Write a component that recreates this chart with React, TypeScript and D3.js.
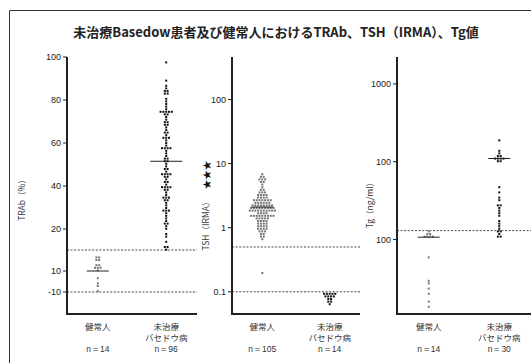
import React from 'react';
import * as d3 from 'd3';

const categories = ['健常人', '未治療\nバセドウ病'];
const nLabels1 = ['n=14', 'n=96'];
const nLabels2 = ['n=105', 'n=14'];
const nLabels3 = ['n=14', 'n=30'];

// TRAb (%)
const trabHealthy = [13.5, 13.2, 12.6, 12.4, 11.5, 11.2, 11, 10.8, 10.5, 10.2, 2.5, -1.5, -5, -9];
const trabBasedow = [
  97, 89, 87, 86, 84, 84, 83, 83, 80, 79, 78, 77, 76, 75, 75, 75, 75, 74, 73, 72,
  71, 70, 69, 68, 67, 66, 65, 64, 63, 62, 61, 60, 58, 58, 58, 55, 54, 53, 53, 52,
  52, 56, 57, 59, 62, 65, 70, 73,
  50, 49, 48, 48, 47, 46, 46, 45, 44, 44, 43, 42, 42, 41, 40, 40, 39, 38, 38, 37,
  36, 35, 35, 34, 33, 33, 32, 31, 30, 29, 28, 28, 27, 26, 25, 24, 23, 22, 21, 20,
  19, 18, 17, 16, 16, 15, 45, 39,
];
const trabTicks = [-10, 10, 20, 40, 60, 80, 100];
const trabRefs = [15, -10];
const trabMedians = [10, 51.5];

// TSH (IRMA)
const tshHealthy = [
  7.0, 6.5, 6.0, 5.8, 5.6, 5.5, 5.2, 5.0, 4.6, 4.4, 4.0, 3.8, 3.6, 3.5, 3.4, 3.3, 3.2, 3.2, 3.1, 3.0,
  3.0, 2.9, 2.9, 2.8, 2.8, 2.7, 2.7, 2.6, 2.6, 2.6, 2.5, 2.5, 2.5, 2.4, 2.4, 2.4, 2.3, 2.3, 2.3, 2.3,
  2.2, 2.2, 2.2, 2.2, 2.1, 2.1, 2.1, 2.1, 2.0, 2.0, 2.0, 2.0, 2.0, 1.9, 1.9, 1.9, 1.9, 1.9, 1.8, 1.8,
  1.8, 1.8, 1.8, 1.7, 1.7, 1.7, 1.7, 1.6, 1.6, 1.6, 1.6, 1.5, 1.5, 1.5, 1.5, 1.5, 1.4, 1.4, 1.4, 1.4,
  1.4, 1.3, 1.3, 1.3, 1.3, 1.2, 1.2, 1.2, 1.2, 1.1, 1.1, 1.1, 1.1, 1.0, 1.0, 1.0, 0.95, 0.9, 0.9, 0.85,
  0.8, 0.8, 0.75, 0.7, 0.66, 0.2,
];
const tshBasedow = [0.096, 0.096, 0.096, 0.096, 0.096, 0.088, 0.088, 0.088, 0.088, 0.08, 0.08, 0.072, 0.072, 0.062];
const tshTicks = [0.1, 1, 10, 100];
const tshTickLabels = ['0.1', '1', '10', '100'];
const tshRefs = [0.5, 0.1];
const tshMedians = [2.1, null];

// Tg (ng/ml)
const tgHealthy = [12.5, 12.0, 11.8, 11.3, 11.0, 10.8, 10.6, 5.7, 3.0, 2.8, 2.4, 2.0, 1.65, 1.35];
const tgBasedow = [
  186, 142, 130, 122, 116, 112, 110, 110, 108, 105, 102,
  48, 40, 35, 33, 28, 27, 25, 23, 21, 20, 17,
  15.5, 14.5, 13.5, 13, 12.5, 12, 11, 11,
];
const tgTicks = [10, 100, 1000];
const tgTickLabels = ['100', '100', '1000'];
const tgRefs = [13];
const tgMedians = [10.7, 110];

const FONT = '"Liberation Sans", Arial, sans-serif';
const JP = '"Noto Sans CJK JP", sans-serif';
const top = 57;
const bottom = 314;

function swarm(values: number[], cx: number, y: (v: number) => number, step = 2.6) {
  const buckets = d3.group(values.map((v) => y(v)), (py) => Math.round(py / step));
  const pts: { x: number; y: number }[] = [];
  buckets.forEach((ys, k) => {
    const n = ys.length;
    ys.forEach((_, i) => pts.push({ x: cx + (i - (n - 1) / 2) * 2.8, y: k * step }));
  });
  return pts;
}

function Panel(props: any) {
  const { x0, x1, y, ticks, tickLabels, refs, medians, groups, nLabels, colors, halfWidths } = props;
  const x = d3.scalePoint<string>().domain(categories).range([x0, x1]).padding(0.45);
  return (
    <g>
      {refs.map((r: number, i: number) => (
        <line key={'r' + i} x1={x0} x2={x1} y1={y(r)} y2={y(r)} stroke="#333" strokeWidth={0.9} strokeDasharray="2,1.6" />
      ))}
      <line x1={x0} x2={x0} y1={top} y2={bottom + 1} stroke="#222" strokeWidth={2} />
      <line x1={x0 - 1} x2={x1} y1={bottom} y2={bottom} stroke="#222" strokeWidth={2} />
      {ticks.map((t: number, i: number) => (
        <g key={'t' + i}>
          <line x1={x0 - 4} x2={x0} y1={y(t)} y2={y(t)} stroke="#222" strokeWidth={1} />
          <text x={x0 - 6} y={y(t)} dy="0.35em" textAnchor="end" fontSize={9} fontFamily={FONT} fill="#222">
            {tickLabels[i]}
          </text>
        </g>
      ))}
      {groups.map((vals: number[], gi: number) => {
        const cx = x(categories[gi])!;
        return (
          <g key={'g' + gi}>
            {swarm(vals, cx, y).map((p, i) => (
              <rect key={i} x={p.x - 1} y={p.y - 1} width={2} height={2} fill={colors[gi]} />
            ))}
            {medians[gi] != null && (
              <line x1={cx - halfWidths[gi]} x2={cx + halfWidths[gi]} y1={y(medians[gi])} y2={y(medians[gi])} stroke="#222" strokeWidth={1} />
            )}
          </g>
        );
      })}
      {categories.map((c, i) => {
        const cx = x(c)!;
        const lines = c.split('\n');
        return (
          <g key={'c' + i} fontSize={8.5} fill="#333" textAnchor="middle">
            {lines.map((l, j) => (
              <text key={j} x={cx} y={330 + j * 10.5} fontFamily={JP}>{l}</text>
            ))}
            <text x={cx} y={352} fontFamily={FONT}>{nLabels[i].replace('=', '＝')}</text>
          </g>
        );
      })}
    </g>
  );
}

export default function App() {
  const y1 = d3.scaleLinear().domain([-20, -10, 10, 20, 100]).range([314, 292, 271, 229, 57]);
  const y2 = d3.scaleLog().domain([0.045, 460]).range([bottom, top]);
  const y3 = d3.scaleLog().domain([1.1, 2220]).range([bottom, top]);
  return (
    <svg width={531} height={363} style={{ position: 'absolute', left: 0, top: 0, background: '#fff' }}>
      <rect x={0} y={0} width={531} height={363} fill="#fff" />
      <line x1={9.5} x2={531} y1={10.5} y2={10.5} stroke="#333" strokeWidth={1} />
      <line x1={9.5} x2={9.5} y1={10.5} y2={363} stroke="#333" strokeWidth={1} />
      <text x={276} y={37} textAnchor="middle" fontSize={13} fontWeight="bold" fontFamily={JP} fill="#222">
        未治療Basedow患者及び健常人におけるTRAb、TSH（IRMA）、Tg値
      </text>
      <Panel x0={67} x1={197} y={y1} ticks={trabTicks} tickLabels={trabTicks.map(String)} refs={trabRefs}
        medians={trabMedians} groups={[trabHealthy, trabBasedow]} nLabels={nLabels1}
        colors={['#777', '#111']} halfWidths={[11, 16]} />
      <Panel x0={232} x1={360} y={y2} ticks={tshTicks} tickLabels={tshTickLabels} refs={tshRefs}
        medians={tshMedians} groups={[tshHealthy, tshBasedow]} nLabels={nLabels2}
        colors={['#777', '#111']} halfWidths={[11, 11]} />
      <Panel x0={397} x1={531} y={y3} ticks={tgTicks} tickLabels={tgTickLabels} refs={tgRefs}
        medians={tgMedians} groups={[tgHealthy, tgBasedow]} nLabels={nLabels3}
        colors={['#777', '#111']} halfWidths={[11, 11]} />
      <text transform="translate(25,198) rotate(-90)" textAnchor="middle" fontSize={8.5} fontFamily={JP} fill="#333">TRAb（%）</text>
      <text transform="translate(209,224) rotate(-90)" textAnchor="middle" fontSize={8.5} fontFamily={JP} fill="#333">TSH（IRMA）</text>
      <text transform="translate(209.5,175) rotate(-90)" textAnchor="middle" fontSize={9.5} fontFamily={JP} fill="#111">★★★</text>
      <text transform="translate(373,203) rotate(-90)" textAnchor="middle" fontSize={8.5} fontFamily={JP} fill="#333">Tg（ng/ml）</text>
    </svg>
  );
}
